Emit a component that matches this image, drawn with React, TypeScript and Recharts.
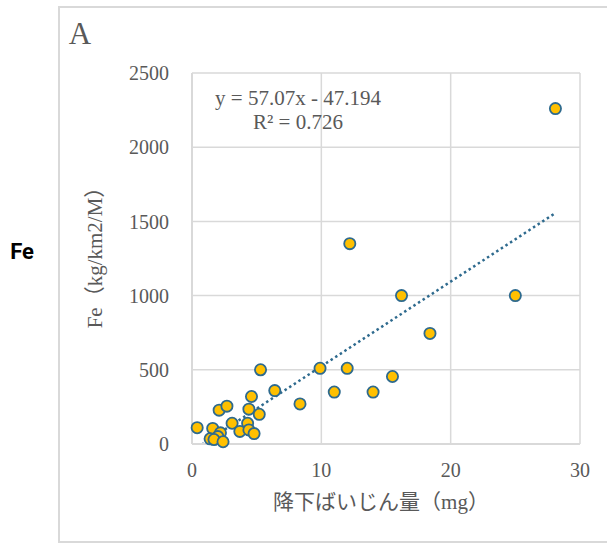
import React from 'react';
import {
  ScatterChart,
  Scatter,
  XAxis,
  YAxis,
  CartesianGrid,
  ReferenceLine,
  Label,
} from 'recharts';

// 降下ばいじん量 (mg) vs Fe (kg/km2/M)
const dustMg = [
  28.1, 12.2, 16.2, 25.0, 18.4, 15.5, 5.3, 9.9, 12.0, 6.4, 11.0, 14.0, 4.6, 8.35, 4.4,
  5.2, 0.4, 2.1, 2.7, 3.1, 4.3, 1.6, 3.7, 4.4, 4.8, 2.2, 2.0, 1.4, 1.7, 2.4,
];
const feValues = [
  2260, 1350, 1000, 1000, 745, 455, 500, 510, 510, 360, 350, 350, 320, 270, 235,
  200, 110, 228, 255, 140, 140, 105, 85, 95, 70, 75, 50, 35, 30, 15,
];

const xTicks = [0, 10, 20, 30];
const yTicks = [0, 500, 1000, 1500, 2000, 2500];

// Excel linear trendline
const slope = 57.07;
const intercept = -47.194;

const points = dustMg.map((x, i) => ({ x, y: feValues[i] }));
const xMin = Math.min(...dustMg);
const xMax = Math.max(...dustMg);

const GRID = '#d9d9d9';
const TEXT = '#595959';
const SERIF = '"Liberation Serif", "Noto Sans CJK JP", serif';

const Marker = (props: any) => {
  const { cx, cy } = props;
  if (cx == null || cy == null) return null;
  return <circle cx={cx} cy={cy} r={5.6} fill="#FFC000" stroke="#2E6A8E" strokeWidth={1.8} />;
};

const overlay = (left: number, top: number): React.CSSProperties => ({
  position: 'absolute',
  left,
  top,
  transform: 'translate(-50%, -50%)',
  whiteSpace: 'nowrap',
  lineHeight: 1,
});

export default function App() {
  return (
    <div style={{ position: 'absolute', left: 0, top: 0, width: 607, height: 545, background: '#fff', overflow: 'hidden' }}>
      <div
        style={{
          position: 'absolute',
          left: 58,
          top: 6,
          width: 600,
          height: 537,
          border: `2px solid ${GRID}`,
          boxSizing: 'border-box',
        }}
      />
      <ScatterChart
        width={607}
        height={545}
        margin={{ top: 73, right: 27, bottom: 41, left: 0 }}
        style={{ position: 'absolute', left: 0, top: 0 }}
      >
        <CartesianGrid stroke={GRID} strokeWidth={1.5} />
        <XAxis
          type="number"
          dataKey="x"
          domain={[0, 30]}
          ticks={xTicks}
          height={60}
          tickLine={false}
          tickSize={0}
          tickMargin={19}
          axisLine={{ stroke: GRID, strokeWidth: 2 }}
          tick={{ fill: TEXT, fontSize: 20, fontFamily: SERIF }}
        >
          <Label
            value="降下ばいじん量（mg）"
            position="center"
            dy={28}
            dx={-5}
            style={{ fill: TEXT, fontSize: 21, fontFamily: SERIF }}
          />
        </XAxis>
        <YAxis
          type="number"
          dataKey="y"
          domain={[0, 2500]}
          ticks={yTicks}
          width={192}
          tickLine={false}
          tickSize={0}
          tickMargin={23}
          axisLine={{ stroke: GRID, strokeWidth: 2 }}
          tick={{ fill: TEXT, fontSize: 20, fontFamily: SERIF }}
        >
          <Label
            value="Fe（kg/km2/M）"
            position="center"
            angle={-90}
            dx={-1}
            dy={-6}
            style={{ fill: TEXT, fontSize: 21, fontFamily: SERIF, textAnchor: 'middle' }}
          />
        </YAxis>
        <ReferenceLine
          segment={[
            { x: xMin, y: slope * xMin + intercept },
            { x: xMax, y: slope * xMax + intercept },
          ]}
          ifOverflow="hidden"
          stroke="#2E6A8E"
          strokeWidth={2.5}
          strokeDasharray="2.5 3"
        />
        <Scatter data={points} shape={Marker} isAnimationActive={false} />
      </ScatterChart>
      <div style={{ ...overlay(80, 33), fontFamily: SERIF, fontSize: 31, color: TEXT }}>A</div>
      <div
        style={{
          ...overlay(22, 252),
          fontFamily: 'Roboto, "Liberation Sans", sans-serif',
          fontWeight: 700,
          fontSize: 22,
          color: '#000',
        }}
      >
        Fe
      </div>
      <div style={{ ...overlay(298, 98), fontFamily: SERIF, fontSize: 21, color: TEXT }}>
        y = 57.07x - 47.194
      </div>
      <div style={{ ...overlay(298, 122), fontFamily: SERIF, fontSize: 21, color: TEXT }}>
        R² = 0.726
      </div>
    </div>
  );
}
